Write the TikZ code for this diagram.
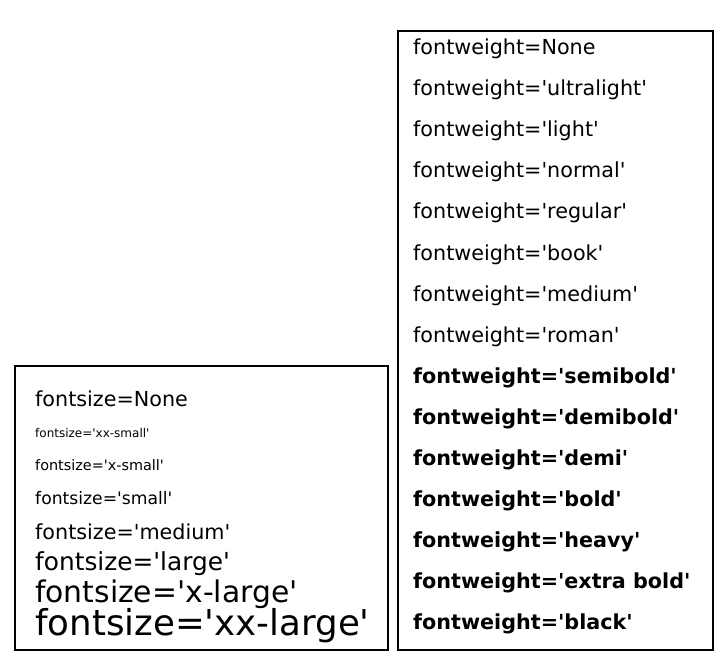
\documentclass[tikz,border=0pt]{standalone}
\usepackage{fontspec}
\setmainfont{DejaVu Sans}
\usepackage{tikz}
\newcommand{\fsz}[1]{\fontsize{#1}{#1}\selectfont}
\newcommand{\q}{\textquotesingle}

\begin{document}
\begin{tikzpicture}[x=1pt, y=-1pt,
    lbl/.style={anchor=base west, inner sep=0pt, font=\fsz{20.7}},
    blbl/.style={lbl, font=\fsz{20.7}\bfseries},
    frame/.style={draw, line width=1.6pt},
  ]
    \useasboundingbox (0,0) rectangle (722,660);

    % left box: font sizes
    \draw[frame] (15,366) rectangle (388,650);
    \node[lbl] (szn)   at (35,406)   {fontsize=None};
    \node[lbl, font=\fsz{12.0}] (szxxs) at (35,437.5) {fontsize=\q xx-small\q};
    \node[lbl, font=\fsz{14.4}] (szxs)  at (35,470)   {fontsize=\q x-small\q};
    \node[lbl, font=\fsz{17.2}] (szs)   at (35,504)   {fontsize=\q small\q};
    \node[lbl, font=\fsz{20.7}] (szm)   at (35,539)   {fontsize=\q medium\q};
    \node[lbl, font=\fsz{24.8}] (szl)   at (35,570.5) {fontsize=\q large\q};
    \node[lbl, font=\fsz{29.8}] (szxl)  at (35,602.5) {fontsize=\q x-large\q};
    \node[lbl, font=\fsz{35.6}] (szxxl) at (35,635)   {fontsize=\q xx-large\q};

    % right box: font weights
    \draw[frame] (398,31) rectangle (713,650);
    \node[lbl]  (wtnone)   at (413,55)  {fontweight=None};
    \node[lbl]  (wtulight) at (413,96)  {fontweight=\q ultralight\q};
    \node[lbl]  (wtlight)  at (413,137) {fontweight=\q light\q};
    \node[lbl]  (wtnormal) at (413,178) {fontweight=\q normal\q};
    \node[lbl]  (wtreg)    at (413,219) {fontweight=\q regular\q};
    \node[lbl]  (wtbook)   at (413,260) {fontweight=\q book\q};
    \node[lbl]  (wtmed)    at (413,301) {fontweight=\q medium\q};
    \node[lbl]  (wtroman)  at (413,342) {fontweight=\q roman\q};
    \node[blbl] (wtsemi)   at (413,383) {fontweight=\q semibold\q};
    \node[blbl] (wtdemib)  at (413,424) {fontweight=\q demibold\q};
    \node[blbl] (wtdemi)   at (413,465) {fontweight=\q demi\q};
    \node[blbl] (wtbold)   at (413,506) {fontweight=\q bold\q};
    \node[blbl] (wtheavy)  at (413,547) {fontweight=\q heavy\q};
    \node[blbl] (wtxbold)  at (413,588) {fontweight=\q extra bold\q};
    \node[blbl] (wtblack)  at (413,629) {fontweight=\q black\q};
\end{tikzpicture}
\end{document}
